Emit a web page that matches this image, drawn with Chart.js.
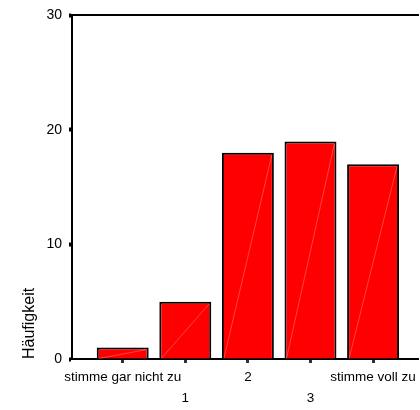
<!DOCTYPE html>
<html>
<head>
<meta charset="utf-8">
<script src="https://cdn.jsdelivr.net/npm/chart.js@4/dist/chart.umd.min.js"></script>
<style>
  body { margin: 0; background: #fff; }
</style>
</head>
<body>
<canvas id="grafico" width="420" height="410"></canvas>
<script>
// dados ----------------------------------------
var kategorien = ["stimme gar nicht zu", "1", "2", "3", "stimme voll zu"];
var haeufigkeit = [1, 5, 18, 19, 17];
var yTicks = [0, 10, 20, 30];

// labels alternate between two rows, like the SPSS output
var tickZeilen = kategorien.map(function (k, i) {
  return i % 2 === 0 ? [k] : ["", k];
});

var punkte = kategorien.map(function (k, i) {
  return { x: i, y: haeufigkeit[i] };
});

// faint diagonal inside each bar (SPSS fill artifact)
var diagonale = {
  id: "diagonale",
  afterDatasetsDraw: function (chart) {
    var ctx = chart.ctx;
    ctx.save();
    ctx.strokeStyle = "rgba(255,190,190,0.7)";
    ctx.lineWidth = 0.5;
    chart.getDatasetMeta(0).data.forEach(function (bar) {
      var p = bar.getProps(["x", "y", "base", "width"], true);
      ctx.beginPath();
      ctx.moveTo(p.x - p.width / 2 + 2, p.base);
      ctx.lineTo(p.x + p.width / 2 - 2, p.y + 2);
      ctx.stroke();
    });
    ctx.restore();
  }
};

var schrift = "'Liberation Sans', Arial, sans-serif";

new Chart(document.getElementById("grafico"), {
  type: "bar",
  data: {
    datasets: [{
      label: "Häufigkeit",
      data: punkte,
      backgroundColor: "#ff0000",
      borderColor: "#000000",
      borderWidth: 2,
      borderSkipped: "bottom",
      barPercentage: 0.83,
      categoryPercentage: 1
    }]
  },
  options: {
    responsive: false,
    animation: false,
    layout: { padding: { top: 8, right: 0, left: 20, bottom: 0 } },
    plugins: { legend: { display: false }, tooltip: { enabled: false } },
    scales: {
      x: {
        type: "linear",
        offset: false,
        min: -0.81,
        max: 4.73,
        afterFit: function (scale) {
          scale.height = 51;
        },
        border: { display: true, color: "#000", width: 2 },
        grid: { offset: false, drawOnChartArea: false, drawTicks: true, tickLength: 4, tickWidth: 3, tickColor: "#333" },
        ticks: {
          stepSize: 1,
          includeBounds: false,
          autoSkip: false,
          maxRotation: 0,
          padding: 4,
          color: "#000",
          font: { family: schrift, size: 13.5, lineHeight: 1.55 },
          callback: function (v) {
            return Number.isInteger(v) && tickZeilen[v] ? tickZeilen[v] : "";
          }
        }
      },
      x2: {
        type: "linear",
        position: "top",
        min: 0,
        max: 1,
        border: { display: true, color: "#000", width: 2 },
        grid: { display: false, drawTicks: false },
        ticks: { display: false }
      },
      y: {
        min: 0,
        max: 30,
        afterBuildTicks: function (scale) {
          scale.ticks = yTicks.map(function (v) { return { value: v }; });
        },
        afterFit: function (scale) {
          scale.width = 52;
        },
        border: { display: true, color: "#000", width: 2 },
        grid: { drawOnChartArea: false, drawTicks: true, tickLength: 3, tickWidth: 4, tickColor: "#000" },
        ticks: {
          padding: 7,
          color: "#000",
          font: { family: schrift, size: 14 }
        },
        title: {
          display: true,
          text: "Häufigkeit",
          align: "start",
          color: "#000",
          padding: { top: 0, bottom: 6 },
          font: { family: schrift, size: 16 }
        }
      }
    }
  },
  plugins: [diagonale]
});
</script>
</body>
</html>
